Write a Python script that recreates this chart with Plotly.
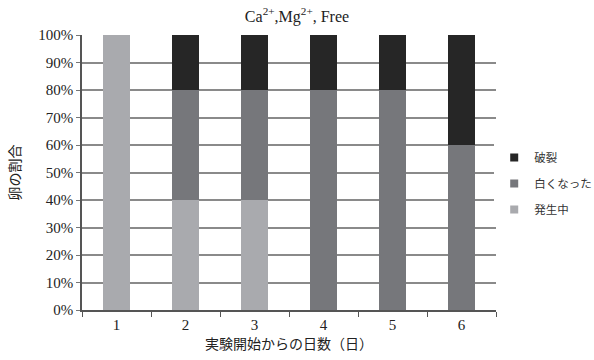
import plotly.graph_objects as go

days = ["1", "2", "3", "4", "5", "6"]
developing = [100, 40, 40, 0, 0, 0]   # 発生中
whitened = [0, 40, 40, 80, 80, 60]    # 白くなった
ruptured = [0, 20, 20, 20, 20, 40]    # 破裂

series = [
    ("発生中", developing, "#a9aaae"),
    ("白くなった", whitened, "#76777b"),
    ("破裂", ruptured, "#262626"),
]

serif = "Liberation Serif, Noto Sans CJK JP, serif"

fig = go.Figure()
for name, vals, color in series:
    fig.add_trace(go.Bar(
        x=days, y=vals, name=name, showlegend=False,
        marker=dict(color=color, line=dict(width=0)),
        width=0.39,
    ))
# compact square legend keys, top of stack listed first
for name, vals, color in reversed(series):
    fig.add_trace(go.Scatter(
        x=[None], y=[None], name=name, mode="markers", legendgroup=name,
        marker=dict(symbol="square", size=8, color=color),
    ))

fig.update_layout(
    width=594, height=360,
    barmode="stack",
    plot_bgcolor="white", paper_bgcolor="white",
    margin=dict(l=82, r=98, t=35, b=50, autoexpand=False),
    title=dict(text="Ca<sup>2+</sup>,Mg<sup>2+</sup>, Free",
               x=0.5, xanchor="center", y=0.955, yanchor="middle",
               font=dict(family=serif, size=16, color="#222")),
    font=dict(family=serif, size=14, color="#222"),
    legend=dict(xref="container", yref="container",
                x=0.832, y=0.49, xanchor="left", yanchor="middle",
                traceorder="grouped",
                font=dict(family="Noto Sans CJK JP, sans-serif", size=11.5, color="#333"),
                itemwidth=30, tracegroupgap=7),
    xaxis=dict(
        type="category", tickson="boundaries",
        ticks="outside", ticklen=5, tickcolor="#555", tickwidth=1,
        showline=True, linecolor="#555", linewidth=1.5,
        showgrid=False,
        title=dict(text="実験開始からの日数（日）", standoff=2,
                   font=dict(family="Noto Sans CJK JP, serif", size=14)),
        tickfont=dict(family=serif, size=15),
    ),
    yaxis=dict(
        range=[0, 100], dtick=10, ticksuffix="%",
        ticks="outside", ticklen=4, tickcolor="#777",
        showline=True, linecolor="#555", linewidth=1.5,
        showgrid=True, gridcolor="#8a8a8a", gridwidth=1.5,
        zeroline=False,
        title=dict(text="卵の割合", standoff=14,
                   font=dict(family="Noto Sans CJK JP, serif", size=14)),
        tickfont=dict(family=serif, size=15),
    ),
)

fig.write_html("out.html")
